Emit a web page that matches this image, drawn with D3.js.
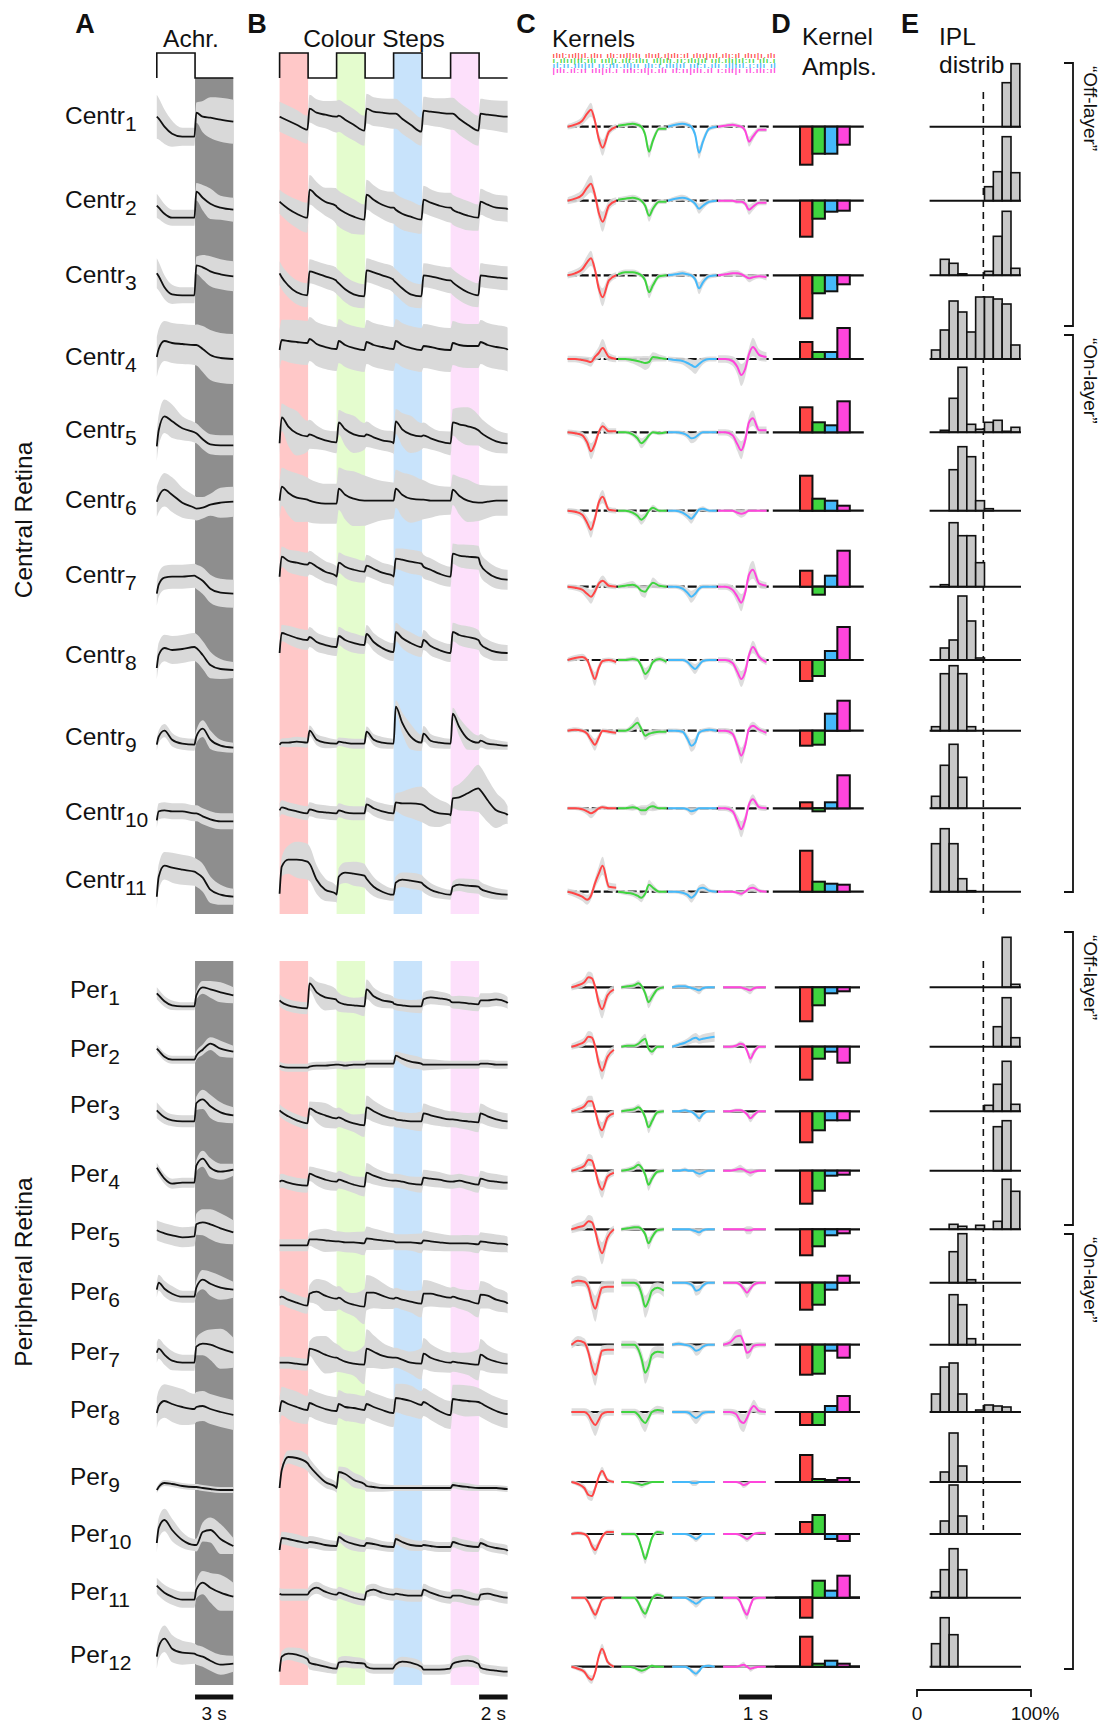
<!DOCTYPE html>
<html><head><meta charset="utf-8">
<script src="https://cdn.jsdelivr.net/npm/d3@7"></script>
<style>
body{margin:0;background:#fff}
svg{display:block}
text{font-family:"Liberation Sans",Arial,Helvetica,sans-serif;fill:#111}
</style>
</head><body>
<svg id="fig" width="1106" height="1724"></svg>
<script>
// ---------------- DATA ----------------
const rowNames = ["Centr1","Centr2","Centr3","Centr4","Centr5","Centr6","Centr7","Centr8","Centr9","Centr10","Centr11",
  "Per1","Per2","Per3","Per4","Per5","Per6","Per7","Per8","Per9","Per10","Per11","Per12"];
const groupNames = ["Central Retina","Peripheral Retina"];
const channels = ["red","green","blue","uv"];
const colourSteps = [[0,2],[4,6],[8,10],[12,14]];   // s, on-periods of colour steps
const achrStep = [[0,3]];                            // s, on-period of achromatic step

// time samples (s)
const achrT = [0,0.15,0.6,1.2,2,2.95,3.1,3.6,4.2,5,6];
const achrSdT = [0,1,2,3,4,5,6];
const colT = [0,0.15,0.6,1.2,1.95,2.1,2.6,3.2,3.95, 4,4.15,4.6,5.2,5.95,6.1,6.6,7.2,7.95,
  8,8.15,8.6,9.2,9.95,10.1,10.6,11.2,11.95, 12,12.15,12.6,13.2,13.95,14.1,14.6,15.2,15.95, 16];
const colSdT = [0,1,2,3,4,5,6,7,8,9,10,11,12,13,14,15,16];
const kernT = [0,0.15,0.3,0.4,0.48,0.56,0.64,0.72,0.85,1];   // fraction of kernel window

// responses (a.u.)
const achrMean = [
 [10,8,0,-7,-10,-10,14,10,9,7,5],
 [-5,-7,-13,-17,-17,-17,9,3,-3,-7,-9],
 [2,-1,-12,-19,-20,-20,10,8,4,1,-1],
 [2,10,18,16,15,14,14,10,4,1,0],
 [-14,2,16,11,4,0,-1,-7,-12,-13,-13],
 [9,14,21,16,8,3,2,3,6,8,9],
 [-7,2,9,10,10,11,10,6,-2,-6,-7],
 [-8,5,12,10,11,13,12,5,-5,-9,-10],
 [-14,-6,0,-9,-13,-14,-6,2,-9,-15,-17],
 [-12,-3,-2,-3,-3,-5,-5,-8,-11,-13,-13],
 [-5,15,26,24,22,20,19,14,2,-3,-5],
 [-6,-8,-14,-18,-19,-19,-8,0,-2,-5,-8],
 [-2,-4,-10,-13,-13,-13,-9,-3,3,-2,-5],
 [1,-1,-6,-9,-10,-10,8,12,5,-1,-4],
 [3,0,-8,-13,-12,-12,5,12,3,-1,1],
 [-1,-2,-4,-6,-8,-7,5,7,5,1,-3],
 [-7,0,-6,-11,-14,-14,-5,3,-1,-5,-7],
 [-8,-4,-10,-16,-18,-18,-2,1,0,-4,-8],
 [-1,6,11,8,5,3,5,6,3,0,-3],
 [-8,-5,-1,-2,-4,-5,-5,-6,-7,-8,-8],
 [-9,6,14,4,-6,-11,-11,2,4,-5,-12],
 [12,10,5,1,-2,-2,8,15,10,5,1],
 [10,20,28,18,14,13,12,10,6,2,3]
];
const achrSd = [
 [22,14,9,9,20,22,22],[12,8,8,8,16,12,12],[15,10,8,8,15,15,15],[20,20,20,20,25,25,25],
 [15,18,12,10,10,10,10],[15,18,15,12,10,15,15],[12,12,12,12,14,14,14],[12,14,14,14,14,10,8],
 [6,7,6,6,10,6,5],[8,8,8,8,8,8,8],[12,15,15,14,14,10,8],
 [6,5,4,4,8,10,8],[4,4,4,4,6,8,6],[8,6,6,6,12,10,8],[5,5,5,5,10,8,6],[10,10,10,10,15,15,12],
 [8,8,6,6,12,12,8],[10,10,8,8,14,20,15],[15,18,18,15,15,15,15],[3,3,3,3,3,3,3],
 [10,12,8,6,12,15,8],[8,8,8,8,14,18,14],[12,14,12,10,10,10,8]
];
const colMean = [
 [10,9,6,2,-3,18,14,12,10, 10,11,7,2,-4,18,15,14,13, 13,13,8,2,-5,16,15,14,13, 13,13,8,2,-4,13,12,11,10, 10],
 [-1,-3,-8,-13,-17,11,5,-1,-5, -6,-8,-12,-16,-19,6,1,-4,-7, -7,-9,-13,-16,-19,1,-2,-5,-7, -7,-9,-12,-15,-17,-1,-4,-7,-8, -9],
 [2,-2,-10,-17,-20,4,2,-1,-5, -6,-8,-14,-19,-21,5,3,0,-4, -5,-7,-13,-19,-21,0,-1,-3,-5, -5,-7,-12,-17,-20,0,-1,-2,-3, -3],
 [9,19,18,17,16,20,15,12,10, 10,18,14,11,9,17,14,12,10, 10,18,14,11,9,13,12,10,9, 9,16,14,13,13,17,14,12,10, 9],
 [-11,15,6,-1,-4,-2,-5,-8,-10, -10,10,3,-2,-4,-2,-5,-8,-10, -11,11,3,-2,-4,-3,-6,-9,-11, -11,10,8,6,2,0,-5,-9,-11, -11],
 [10,24,18,13,11,10,8,7,7, 7,22,16,12,10,10,10,10,10, 10,22,16,12,11,11,10,10,10, 10,21,15,10,8,8,9,10,10, 10],
 [10,30,26,24,22,24,20,15,11, 10,24,20,17,15,21,18,14,11, 10,28,27,25,23,20,17,13,10, 10,33,31,30,29,22,14,9,7, 7],
 [7,27,25,22,20,23,18,15,13, 13,24,20,17,15,26,18,12,8, 8,28,22,17,13,20,14,10,7, 7,28,25,23,20,16,11,8,7, 7],
 [-14,-12,-12,-11,-12,0,-9,-12,-13, -13,-11,-12,-13,-13,-1,-9,-12,-13, -13,24,8,-6,-12,-3,-10,-12,-13, -13,17,4,-8,-12,-10,-13,-14,-15, -15],
 [-2,1,-1,-3,-5,-1,-3,-4,-5, -5,-2,-4,-5,-5,4,0,-3,-5, -5,6,5,5,4,3,-2,-5,-6, -7,10,11,15,20,18,8,-2,-6, -7],
 [-2,25,32,32,30,28,12,2,-2, -3,15,19,18,16,13,5,0,-3, -3,9,12,11,9,7,2,-1,-3, -3,5,7,6,5,3,0,-2,-3, -3],
 [-13,-15,-18,-20,-21,4,-5,-10,-12, -13,-15,-17,-18,-19,-2,-9,-13,-15, -16,-17,-18,-19,-19,-12,-10,-11,-13, -14,-15,-15,-16,-17,-13,-13,-12,-15, -16],
 [-19,-20,-21,-21,-21,-20,-19,-19,-18, -18,-18,-19,-18,-18,-17,-17,-17,-17, -17,-9,-12,-15,-17,-18,-18,-18,-18, -18,-18,-18,-18,-18,-17,-17,-18,-18, -18],
 [1,-1,-5,-9,-12,3,-1,-4,-7, -7,-6,-9,-12,-14,4,0,-4,-7, -7,-8,-9,-10,-10,-2,-4,-6,-8, -8,-8,-9,-10,-11,-2,-5,-8,-10, -10],
 [-11,-10,-12,-14,-15,-3,-6,-9,-11, -11,-9,-11,-14,-16,-2,-5,-8,-10, -10,-10,-11,-13,-14,-7,-8,-9,-11, -11,-11,-10,-12,-14,-8,-10,-11,-12, -12],
 [-16,-16,-16,-16,-16,-10,-10,-11,-12, -12,-12,-13,-13,-14,-9,-10,-11,-12, -12,-13,-13,-13,-14,-11,-12,-13,-14, -14,-14,-14,-14,-15,-12,-13,-14,-15, -16],
 [-15,-14,-17,-20,-23,-11,-9,-13,-16, -16,-15,-19,-22,-24,-10,-10,-13,-16, -16,-15,-17,-19,-21,-11,-11,-13,-15, -15,-14,-16,-18,-21,-12,-13,-17,-20, -21],
 [-18,-18,-18,-19,-20,-4,-6,-10,-13, -13,-14,-17,-19,-20,-4,-7,-11,-13, -13,-13,-15,-18,-19,-9,-13,-16,-18, -18,-17,-18,-19,-20,-10,-14,-17,-19, -19],
 [0,11,8,5,2,9,6,3,1, 1,8,5,4,2,8,5,2,-1, -1,14,13,11,7,10,6,1,-3, -3,13,12,11,10,9,5,1,-2, -2],
 [-6,12,25,24,19,16,8,0,-5, -6,10,8,2,-2,-4,-5,-6,-6, -6,-6,-6,-6,-6,-6,-6,-6,-6, -6,-3,-4,-5,-6,-6,-6,-6,-7, -7],
 [-16,-4,-5,-7,-9,-8,-9,-11,-12, -12,-3,-7,-10,-12,-9,-10,-12,-13, -13,-5,-8,-11,-12,-11,-12,-13,-13, -13,-8,-10,-12,-13,-9,-12,-14,-16, -17],
 [4,3,3,3,3,6,10,6,3, 3,5,3,0,-2,6,8,5,3, 3,4,3,2,2,8,5,2,0, 0,2,2,0,-2,3,4,2,0, 0],
 [-5,10,13,12,8,4,2,0,-2, -2,4,5,4,3,0,-2,-2,-2, -1,2,5,4,0,-3,-3,-3,-2, -1,3,5,6,3,-1,-3,-4,-5, -5]
];
const colSd = [
 [15,15,14,13,16,16,15,14,15,15,14,14,16,16,15,15,16],
 [12,14,15,13,18,18,15,14,16,16,14,13,15,15,13,13,13],
 [12,12,12,12,13,13,12,12,13,13,12,12,13,13,12,12,12],
 [20,22,22,22,22,22,22,22,22,22,22,22,22,22,22,22,22],
 [12,24,15,10,11,20,13,10,11,20,13,10,12,20,15,12,10],
 [18,25,22,20,20,28,25,20,18,25,20,15,14,22,18,15,15],
 [10,12,12,11,10,12,11,10,10,12,12,11,10,12,12,11,10],
 [8,10,10,9,9,10,9,9,9,11,10,9,9,11,10,9,8],
 [4,5,5,6,4,5,5,6,5,14,8,6,5,12,7,5,4],
 [7,7,7,7,7,7,7,8,8,14,18,15,9,16,24,20,9],
 [8,18,18,12,8,12,12,8,6,8,8,6,5,7,7,6,5],
 [6,6,6,14,10,7,10,8,6,6,7,7,6,7,7,7,6],
 [4,4,4,4,4,4,4,4,4,7,6,5,4,4,4,4,4],
 [6,6,6,13,10,8,12,10,8,8,10,9,8,8,10,9,8],
 [7,7,7,10,9,8,10,8,7,7,8,8,7,7,8,8,7],
 [6,6,6,12,10,10,12,10,8,8,10,9,8,8,9,9,8],
 [8,8,8,16,12,10,18,14,10,10,14,12,10,10,14,12,10],
 [6,6,6,20,14,10,20,14,10,10,16,12,10,10,16,12,10],
 [14,16,14,14,14,14,14,14,14,16,14,14,14,16,14,14,14],
 [4,8,8,6,5,8,6,4,3,3,3,3,3,4,3,3,3],
 [6,7,6,6,5,7,6,5,5,6,5,5,5,6,5,5,5],
 [6,6,6,6,6,6,6,6,6,6,6,6,6,7,6,6,6],
 [5,7,7,6,5,6,5,5,5,5,5,5,5,6,5,5,5]
];

// kernels (a.u.)
const kernRed = [
 [0,2,6,13,17,6,-12,-21,-5,0],[0,2,6,13,17,6,-12,-21,-5,0],[0,2,6,13,17,6,-13,-22,-5,0],
 [0,0,-1,-2,-3,2,6,11,2,0],[0,-1,-3,-10,-19,-12,0,6,1,1],[0,-1,-4,-12,-19,-8,8,14,1,0],
 [0,-1,-3,-7,-10,-5,3,6,1,0],[0,2,3,0,-10,-19,-8,-1,0,-2],[0,1,0,-3,-9,-14,-7,0,-1,-2],
 [0,0,-1,-3,-5,-3,0,1,0,0],[0,-2,-5,-8,-4,8,18,26,5,4],
 [0,2,5,10,9,0,-15,-22,-8,-2],[0,2,5,10,9,0,-16,-24,-10,-3],[0,2,5,10,10,0,-13,-19,-6,-2],
 [0,2,5,11,10,0,-13,-19,-6,-2],[0,2,4,8,7,-2,-16,-24,-8,0],[0,2,1,-5,-18,-26,-15,-5,-4,-4],
 [0,4,2,-8,-22,-30,-18,-6,-5,-5],[0,0,0,-3,-9,-13,-8,-2,0,0],[0,-2,-6,-13,-14,-6,5,11,2,0],
 [0,1,0,-4,-12,-16,-10,-3,2,2],[0,0,0,-5,-12,-17,-10,-2,0,0],[0,-2,-5,-11,-13,-5,10,18,5,0]
];
const kernGreen = [
 [1,2,3,2,0,-8,-25,-14,-2,-2],[1,2,3,2,0,-5,-15,-8,-1,-1],[1,3,3,2,0,-5,-17,-10,-1,0],
 [0,0,-1,-2,-3,-4,-3,2,1,0],[0,0,-2,-6,-11,-8,-3,0,-1,0],[0,0,-2,-5,-9,-6,0,3,0,0],
 [0,1,2,0,-4,-5,0,4,1,0],[0,0,1,0,-6,-14,-10,-2,1,-2],[0,0,4,8,2,-5,-3,-2,-1,-1],
 [0,0,1,0,-2,-2,1,2,0,0],[0,-1,-2,-4,-6,-2,7,4,0,0],
 [0,1,2,4,1,-6,-15,-10,-2,0],[0,1,1,3,6,8,-2,-5,0,0],[0,1,2,4,1,-6,-16,-10,-1,0],
 [0,1,3,6,3,-4,-14,-8,-1,0],[0,1,2,2,0,-5,-14,-8,-1,0],[0,0,0,-3,-12,-24,-18,-8,-5,-8],
 [0,0,0,-5,-15,-28,-22,-10,-7,-8],[0,0,0,-3,-8,-11,-6,0,2,1],[0,0,-1,-2,-3,-2,-1,0,0,0],
 [0,0,0,-5,-15,-25,-15,-4,2,1],[0,0,0,-5,-12,-16,-9,-1,3,1],[0,0,-1,-3,-4,-3,-1,1,0,0]
];
const kernBlue = [
 [0,2,3,2,0,-8,-26,-15,-2,0],[0,2,3,2,0,-3,-8,-5,-1,0],[0,1,2,1,0,-4,-13,-7,-1,0],
 [0,-1,-2,-4,-6,-8,-5,-2,0,0],[0,0,-1,-3,-6,-5,-2,0,0,0],[0,0,-2,-5,-8,-4,1,2,0,0],
 [0,0,-2,-6,-10,-7,-2,0,0,0],[0,0,0,-2,-6,-9,-5,-1,0,0],[0,0,-1,-8,-15,-12,-2,0,1,0],
 [0,0,0,-1,-3,-2,0,0,0,0],[0,0,-1,-3,-6,-3,3,4,1,0],
 [0,1,1,0,-1,-2,-3,-1,0,0],[0,2,4,6,8,9,7,8,9,10],[0,0,1,0,-1,-4,-7,-3,0,0],
 [0,0,1,0,0,-2,-3,-2,0,0],[0,0,0,0,-1,-2,-3,-1,0,0],[0,0,0,-1,-3,-8,-7,-3,0,0],
 [0,1,0,-1,-3,-6,-5,-2,0,0],[0,0,0,-1,-4,-6,-4,-1,0,0],[0,0,0,0,-1,-1,0,0,0,0],
 [0,0,0,-1,-3,-5,-3,0,0,0],[0,0,0,-2,-4,-6,-4,-1,0,0],[0,0,0,-2,-5,-7,-4,0,1,0]
];
const kernUV = [
 [0,1,2,1,0,-4,-15,-10,-3,-3],[0,0,0,-1,-1,-3,-9,-6,-2,-2],[0,1,2,2,1,-1,-3,-2,-1,-2],
 [0,0,-2,-8,-16,-10,5,12,4,2],[0,0,-3,-12,-18,-8,10,14,2,2],[0,0,0,-2,-3,-2,0,0,0,0],
 [0,0,-3,-10,-16,-6,12,17,3,1],[0,0,-3,-12,-19,-12,5,13,3,-2],[0,0,-3,-15,-25,-15,2,5,1,-2],
 [0,0,-3,-13,-21,-12,4,9,1,0],[0,0,0,-1,-2,0,3,4,1,0],
 [0,0,0,0,-1,-2,-3,-1,0,0],[0,0,1,3,2,-4,-12,-6,0,0],[0,0,1,1,0,-3,-7,-4,0,0],
 [0,0,1,2,1,-1,-2,-1,0,0],[0,0,0,0,0,-1,-1,0,0,0],[0,0,0,-2,-6,-10,-6,-2,0,0],
 [0,2,8,9,2,-8,-6,-1,0,0],[0,0,-2,-9,-11,-6,2,6,1,0],[0,0,0,-1,-3,-2,0,0,0,0],
 [0,0,0,-1,-3,-5,-3,0,1,1],[0,0,0,-4,-12,-17,-8,-1,0,0],[0,0,0,1,2,0,-2,-1,0,0]
];
const kernSd = [
 [8,6,6,5],[10,6,5,5],[9,6,6,4],[9,7,7,11],[8,5,5,9],[8,5,5,4],[7,6,6,9],[7,6,5,8],[6,6,6,8],[5,5,4,8],[9,5,5,4],
 [9,6,4,4],[9,5,5,5],[8,6,4,4],[8,6,4,4],[11,6,4,4],[13,11,5,5],[11,11,5,7],[11,9,6,9],[5,3,3,3],[5,5,3,3],[5,5,4,5],[5,3,3,3]
];
// kernel amplitudes [red, green, blue, UV]
const kernAmp = [
 [-38,-27,-27,-18],[-36,-18,-11,-10],[-43,-18,-16,-9],[17,7,7,31],[25,10,7,31],[35,12,10,5],
 [16,-8,11,36],[-21,-16,9,33],[-15,-14,17,30],[6,-3,6,33],[41,10,8,7],
 [-34,-18,-6,-4],[-33,-12,-5,-16],[-31,-19,-9,-9],[-33,-20,-5,-4],[-26,-17,-6,-4],[-27,-22,-7,7],
 [-30,-29,-6,-13],[-13,-13,6,16],[27,3,2,4],[12,19,-5,-7],[-20,17,7,22],[30,3,6,3]
];
// IPL distribution, 10 depth bins
const iplHist = [
 [0,0,0,0,0,0,0,0,44,63],[0,0,0,0,0,0,14,29,64,28],[0,16,12,1.5,0,0,4,39,64,7],
 [9,29,58,47,27,62,62,60,55,14],[0,2,34,65,8,3,10,12,1,5],[0,0,41,64,54,10,2,0,0,0],
 [0,2,64,51,51,24,0,0,0,0],[0,12,20,64,39,2,0,0,0,0],[4,57,65,57,4,0,0,0,0,0],
 [12,43,64,31,0,0,0,0,0,0],[48,63,48,13,1,0,0,0,0,0],
 [0,0,0,0,0,0,0,0,50,3],[0,0,0,0,0,0,0,20,49,9],[0,0,0,0,0,0,6,27,50,7],[0,0,0,0,0,0,0,44,50,0],
 [0,0,5,3,0,4,0,8,50,38],[0,0,31,49,3,0,0,0,0,0],[0,0,50,40,6,0,0,0,0,0],[18,45,49,18,0,2,7,6,5,0],
 [0,10,49,16,0,0,0,0,0,0],[0,13,49,18,0,0,0,0,0,0],[6,28,49,28,0,0,0,0,0,0],[23,49,32,0,0,0,0,0,0,0]
];
const iplBinStart = 12.7, iplBinWidth = 7.75, onOffBoundary = 58.2;   // IPL %
const layerBrackets = [["“Off-layer”",0],["“On-layer”",1],["“Off-layer”",2],["“On-layer”",3]];

// ---------------- LAYOUT ----------------
const rowY   = [126.7,200.7,275.3,359,432.3,510.7,586.7,660,730.7,808.3,891.7,
                987.3,1046.7,1111.3,1170.7,1229.3,1282.7,1344.7,1412,1482,1534,1597.7,1666.7];
const labelY = [124,208,283,365,438,508,583,663,745,820,888,998,1057,1113,1182,1240,1300,1360,1418,1485,1542,1600,1663];
const colourBandY = [[53,914],[961,1685]];
const darkBandY = [[78,914],[961,1685]];
const bracketY = [[63,326],[335,892],[932,1225],[1234,1669]];
const groupLabelY = [520,1272];

const colors = {red:"#ff4646", green:"#3fd43f", blue:"#45b9fa", uv:"#ff45dc"};
const stepFill = ["#ffc8c8","#e4fcce","#c8e3fb","#fde0fb"];

const svg = d3.select("#fig");
svg.append("rect").attr("width",1106).attr("height",1724).attr("fill","#fff");

const achrX = d3.scaleLinear().domain([0,6]).range([156.8,233.3]);
const colX  = d3.scaleLinear().domain([0,16]).range([279.6,507.6]);
const resp  = d3.scaleLinear().domain([-50,50]).range([50,-50]);   // a.u. -> px offset
const kernCentralStart = [567.7,618,668,718], kernCentralW = 48.5;
const kernPerStart = [571.6,621.5,672.3,723.3], kernPerW = 42.3;
const kernSecPx = d3.scaleLinear().domain([0,1]).range([0,33]);   // 1 s
const ampX = d3.scaleBand().domain(channels).range([800,849.8]);
const ampY = d3.scaleLinear().domain([-50,50]).range([50,-50]);
const iplX = d3.scaleLinear().domain([0,100]).range([917,1031]);
const histY = d3.scaleLinear().domain([0,70]).range([0,-70]);

const isCentral = i => i < 11;
const continuousBase = i => isCentral(i) || i >= 21;

// ---------------- HEADERS ----------------
function txt(x,y,s,size,opts={}) {
  const t = svg.append("text").attr("x",x).attr("y",y).text(s).style("font-size",size+"px");
  if (opts.bold) t.style("font-weight","bold");
  if (opts.anchor) t.attr("text-anchor",opts.anchor);
  return t;
}

// background bands
darkBandY.forEach(([y0,y1])=>{
  svg.append("rect").attr("x",achrX(3)).attr("y",y0).attr("width",achrX(6)-achrX(3)).attr("height",y1-y0).attr("fill","#8e8e8e");
});
colourBandY.forEach(([y0,y1])=>{
  colourSteps.forEach(([a,b],k)=>{
    svg.append("rect").attr("x",colX(a)).attr("y",y0).attr("width",colX(b)-colX(a)).attr("height",y1-y0).attr("fill",stepFill[k]);
  });
});

[["A",85],["B",257],["C",526],["D",781],["E",910]].forEach(d=>txt(d[1],33,d[0],27,{bold:true,anchor:"middle"}));
txt(191,46.7,"Achr.",24.5,{anchor:"middle"});
txt(374,46.7,"Colour Steps",24.5,{anchor:"middle"});
txt(552,46.7,"Kernels",24.5);
txt(802,45,"Kernel",24.5); txt(802,75,"Ampls.",24.5);
txt(939,45,"IPL",24.5); txt(939,73,"distrib",24.5);

// tiny stimulus code lines under "Kernels"
const codeLines = ["ılıl:ııl|ıl.ılıı ılı:ııl|ılı ılııl.ı|ılı:ıl ılıı|ııl.ılı:ıl ılıı|ı.ılı",
                   "ı.ılıı|ıl:ılı ııl|ı.ılı:ılıı ıl|ılı.ıı:ılı|ıl ııl.ılı|ıl:ıı ılı.ı",
                   "ıl:ıı.ılı|ıl ıı:ılı.ıl|ıı ılı:ı.ılı|ıl ııl:ı.ılı ıl|ııl.ı:ılı ıl",
                   "|ılı.ıl:ıı ılı|ıl.ı ıılı:ıl|ı.ılı ıl:ıı|ılı.ıl ı:ılı|ı ıl.ılı:ıl"];
codeLines.forEach((s,k)=>{
  svg.append("text").attr("x",552).attr("y",57.5+k*5).attr("textLength",224)
    .attr("lengthAdjust","spacingAndGlyphs").style("font-size","6.5px")
    .style("fill",colors[channels[k]]).text(s);
});

// stimulus step outlines
function stepPath(xs, on, t0, t1) {
  const p = d3.path(); const y0=78, y1=53;
  p.moveTo(xs(t0), y0);
  on.forEach(([a,b])=>{ p.lineTo(xs(a),y0); p.lineTo(xs(a),y1); p.lineTo(xs(b),y1); p.lineTo(xs(b),y0); });
  p.lineTo(xs(t1), y0);
  return p.toString();
}
svg.append("path").attr("d",stepPath(achrX,achrStep,0,6)).attr("fill","none").attr("stroke","#111").attr("stroke-width",1.6);
svg.append("path").attr("d",stepPath(colX,colourSteps,0,16)).attr("fill","none").attr("stroke","#111").attr("stroke-width",1.6);

// group labels
groupNames.forEach((g,k)=>{
  svg.append("text").attr("transform",`translate(32,${groupLabelY[k]}) rotate(-90)`)
    .attr("text-anchor","middle").style("font-size","24.5px").text(g);
});

// ---------------- ROWS ----------------
const lineGen = d3.line().curve(d3.curveMonotoneX);
function drawTrace(T, mean, sdT, sd, xs, y0) {
  const sdAt = d3.scaleLinear().domain(sdT).range(sd);
  const pts = T.map((t,i)=>({x:xs(t), m:mean[i], s:sdAt(t)}));
  const area = d3.area().curve(d3.curveMonotoneX).x(d=>d.x)
    .y0(d=>y0+resp(d.m-d.s)).y1(d=>y0+resp(d.m+d.s));
  svg.append("path").attr("d",area(pts)).attr("fill","#d9d9d9");
  svg.append("path").attr("d",lineGen(pts.map(d=>[d.x,y0+resp(d.m)])))
    .attr("fill","none").attr("stroke","#111").attr("stroke-width",1.8);
}

const kernSets = [kernRed,kernGreen,kernBlue,kernUV];

rowNames.forEach((name,i)=>{
  const y0 = rowY[i];
  const m = name.match(/^([A-Za-z]+)(\d+)$/);
  const lab = svg.append("text").attr("x", isCentral(i)?65:70).attr("y",labelY[i]).style("font-size","24.5px");
  lab.append("tspan").text(m[1]);
  lab.append("tspan").attr("dy",7).style("font-size","21px").text(m[2]);

  drawTrace(achrT, achrMean[i], achrSdT, achrSd[i], achrX, y0);
  drawTrace(colT, colMean[i], colSdT, colSd[i], colX, y0);

  // kernels
  const starts = isCentral(i) ? kernCentralStart : kernPerStart;
  const W = isCentral(i) ? kernCentralW : kernPerW;
  if (continuousBase(i)) {
    const bl = svg.append("line").attr("x1",starts[0]).attr("x2", isCentral(i)?771:860)
      .attr("y1",y0).attr("y2",y0).attr("stroke","#111").attr("stroke-width",2.2);
    if (isCentral(i)) bl.attr("stroke-dasharray","9,3");
  } else {
    starts.forEach(s=>svg.append("line").attr("x1",s).attr("x2",s+W).attr("y1",y0).attr("y2",y0)
      .attr("stroke","#111").attr("stroke-width",2.2));
  }
  kernSets.forEach((set,k)=>{
    const kx = d3.scaleLinear().domain([0,1]).range([starts[k],starts[k]+W]);
    const vals = set[i];
    const maxAbs = d3.max(vals,v=>Math.abs(v)) || 1;
    const sd = kernSd[i][k];
    const area = d3.area().curve(d3.curveMonotoneX).x((d,j)=>kx(kernT[j]))
      .y0(d=>y0+resp(d - sd*(0.35+0.65*Math.abs(d)/maxAbs)))
      .y1(d=>y0+resp(d + sd*(0.35+0.65*Math.abs(d)/maxAbs)));
    svg.append("path").attr("d",area(vals)).attr("fill","#d9d9d9").attr("opacity",0.9);
  });
  kernSets.forEach((set,k)=>{
    const kx = d3.scaleLinear().domain([0,1]).range([starts[k],starts[k]+W]);
    svg.append("path").attr("d",lineGen(set[i].map((v,j)=>[kx(kernT[j]), y0+resp(v)])))
      .attr("fill","none").attr("stroke",colors[channels[k]]).attr("stroke-width",2);
  });

  // amplitudes
  svg.append("line").attr("x1", isCentral(i)?772.8:774.8).attr("x2", isCentral(i)?863.8:860)
    .attr("y1",y0).attr("y2",y0).attr("stroke","#111").attr("stroke-width",2.2);
  kernAmp[i].forEach((v,k)=>{
    const yy = y0+ampY(v);
    svg.append("rect").attr("x",ampX(channels[k])).attr("width",ampX.bandwidth())
      .attr("y",Math.min(y0,yy)).attr("height",Math.abs(yy-y0))
      .attr("fill",colors[channels[k]]).attr("stroke","#111").attr("stroke-width",2);
  });
});

// IPL boundary dashed lines
[[92,914],[961,1530]].forEach(([a,b])=>{
  svg.append("line").attr("x1",iplX(onOffBoundary)).attr("x2",iplX(onOffBoundary)).attr("y1",a).attr("y2",b)
    .attr("stroke","#111").attr("stroke-width",1.6).attr("stroke-dasharray","7,5");
});
// histograms
rowNames.forEach((name,i)=>{
  const y0 = rowY[i];
  iplHist[i].forEach((h,b)=>{
    if (h<=0) return;
    const x0 = iplX(iplBinStart+b*iplBinWidth), x1 = iplX(iplBinStart+(b+1)*iplBinWidth);
    svg.append("rect").attr("x",x0).attr("width",x1-x0).attr("y",y0+histY(h)).attr("height",-histY(h))
      .attr("fill","#c8c8c8").attr("stroke","#111").attr("stroke-width",1.6);
  });
  svg.append("line").attr("x1",929.6).attr("x2",1021).attr("y1",y0).attr("y2",y0)
    .attr("stroke","#111").attr("stroke-width",2);
});

// layer brackets
layerBrackets.forEach(([label,k])=>{
  const [a,b] = bracketY[k];
  svg.append("path").attr("d",`M1064,${a}H1073V${b}H1064`).attr("fill","none").attr("stroke","#111").attr("stroke-width",1.8);
  svg.append("text").attr("transform",`translate(1084,${a+3}) rotate(90)`).style("font-size","19px").text(label);
});

// scale bars
const sbY = 1697;
function scaleBar(x0,x1,label) {
  svg.append("line").attr("x1",x0).attr("x2",x1).attr("y1",sbY).attr("y2",sbY).attr("stroke","#111").attr("stroke-width",5);
  txt((x0+x1)/2,1720,label,19,{anchor:"middle"});
}
scaleBar(achrX(3),achrX(6),"3 s");
scaleBar(colX(14),colX(16),"2 s");
scaleBar(739,739+kernSecPx(1),"1 s");
svg.append("path").attr("d",`M${iplX(0)},1697V1690H${iplX(100)}V1697`).attr("fill","none").attr("stroke","#111").attr("stroke-width",1.8);
txt(iplX(0),1720,"0",19,{anchor:"middle"});
txt(iplX(100)+4,1720,"100%",19,{anchor:"middle"});
</script>
</body></html>
